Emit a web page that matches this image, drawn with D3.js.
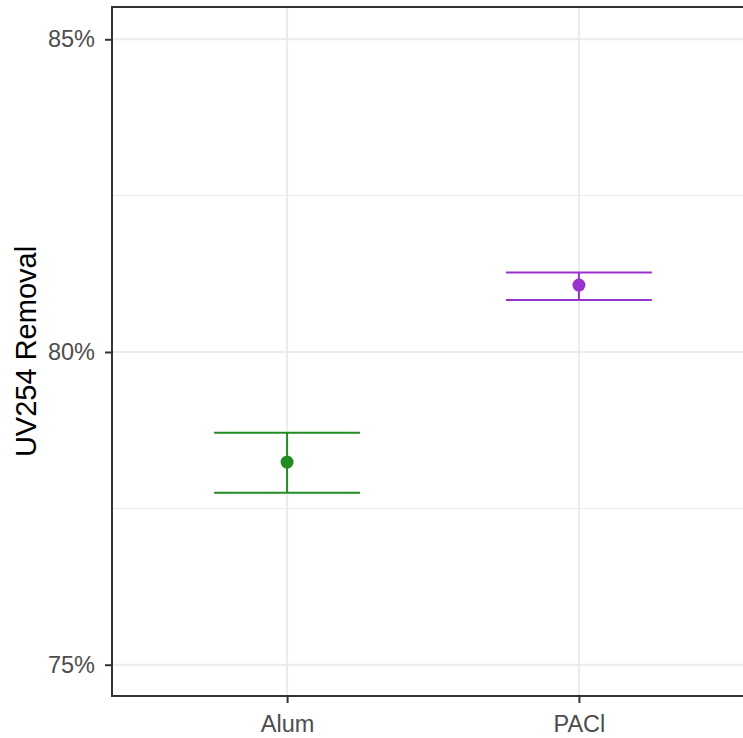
<!DOCTYPE html>
<html lang="en">
  <head>
    <meta charset="UTF-8" />
    <title>UV254 Removal</title>
    <script src="https://d3js.org/d3.v7.min.js"></script>
    <style>
      body {
        margin: 0;
        background: #fff;
      }
      svg {
        display: block;
        font-family: "Liberation Sans", Arial, sans-serif;
      }
    </style>
  </head>
  <body>
    <div id="chart"></div>
    <script>
      // values (percent)
      const categories = ["Alum", "PACl"];
      const means = [78.24, 81.07];
      const lower = [77.75, 80.83];
      const upper = [78.71, 81.27];
      const colors = ["#228B22", "#9932CC"];
      const majorTicks = [75, 80, 85];
      const minorTicks = [77.5, 82.5];

      const width = 743;
      const height = 738;
      const panel = { left: 112, top: 7, right: 754, bottom: 696 };

      const svg = d3
        .select("#chart")
        .append("svg")
        .attr("width", width)
        .attr("height", height);

      const x = d3
        .scalePoint()
        .domain(categories)
        .range([panel.left, panel.right])
        .padding(0.6);
      const y = d3
        .scaleLinear()
        .domain([74.5, 85.5])
        .range([panel.bottom, panel.top + 1]);

      const grid = svg.append("g");
      grid
        .selectAll(".minor")
        .data(minorTicks)
        .join("line")
        .attr("x1", panel.left)
        .attr("x2", panel.right)
        .attr("y1", (d) => y(d))
        .attr("y2", (d) => y(d))
        .attr("stroke", "#ebebeb")
        .attr("stroke-width", 1);
      grid
        .selectAll(".major")
        .data(majorTicks)
        .join("line")
        .attr("x1", panel.left)
        .attr("x2", panel.right)
        .attr("y1", (d) => y(d))
        .attr("y2", (d) => y(d))
        .attr("stroke", "#ebebeb")
        .attr("stroke-width", 2);
      grid
        .selectAll(".vert")
        .data(categories)
        .join("line")
        .attr("x1", (d) => x(d))
        .attr("x2", (d) => x(d))
        .attr("y1", panel.top)
        .attr("y2", panel.bottom)
        .attr("stroke", "#ebebeb")
        .attr("stroke-width", 2);

      // error bars
      const hw = x.step() * 0.25;
      const bars = svg
        .selectAll(".bar")
        .data(categories)
        .join("g")
        .attr("stroke", (d, i) => colors[i])
        .attr("stroke-width", 2);
      bars
        .append("line")
        .attr("x1", (d) => x(d))
        .attr("x2", (d) => x(d))
        .attr("y1", (d, i) => y(upper[i]))
        .attr("y2", (d, i) => y(lower[i]));
      bars
        .append("line")
        .attr("x1", (d) => x(d) - hw)
        .attr("x2", (d) => x(d) + hw)
        .attr("y1", (d, i) => y(upper[i]))
        .attr("y2", (d, i) => y(upper[i]));
      bars
        .append("line")
        .attr("x1", (d) => x(d) - hw)
        .attr("x2", (d) => x(d) + hw)
        .attr("y1", (d, i) => y(lower[i]))
        .attr("y2", (d, i) => y(lower[i]));

      svg
        .selectAll(".pt")
        .data(categories)
        .join("circle")
        .attr("cx", (d) => x(d))
        .attr("cy", (d, i) => y(means[i]))
        .attr("r", 6.5)
        .attr("fill", (d, i) => colors[i]);

      // panel border
      svg
        .append("rect")
        .attr("x", panel.left)
        .attr("y", panel.top)
        .attr("width", panel.right - panel.left)
        .attr("height", panel.bottom - panel.top)
        .attr("fill", "none")
        .attr("stroke", "#333333")
        .attr("stroke-width", 2);

      // axes
      const yAxis = svg
        .append("g")
        .attr("transform", `translate(${panel.left},0)`)
        .call(
          d3
            .axisLeft(y)
            .tickValues(majorTicks)
            .tickSize(7)
            .tickPadding(10)
            .tickFormat((d) => d + "%")
        );
      const xAxis = svg
        .append("g")
        .attr("transform", `translate(0,${panel.bottom})`)
        .call(d3.axisBottom(x).tickSize(7).tickPadding(12));

      [yAxis, xAxis].forEach((g) => {
        g.select(".domain").remove();
        g.selectAll(".tick line").attr("stroke", "#333333").attr("stroke-width", 2);
        g.selectAll(".tick text")
          .attr("fill", "#4d4d4d")
          .style("font-size", "23.5px")
          .style("font-family", '"Liberation Sans", Arial, sans-serif');
      });

      svg
        .append("text")
        .attr(
          "transform",
          `translate(36,${(panel.top + panel.bottom) / 2}) rotate(-90)`
        )
        .attr("text-anchor", "middle")
        .style("font-size", "29px")
        .attr("fill", "#000")
        .text("UV254 Removal");
    </script>
  </body>
</html>
